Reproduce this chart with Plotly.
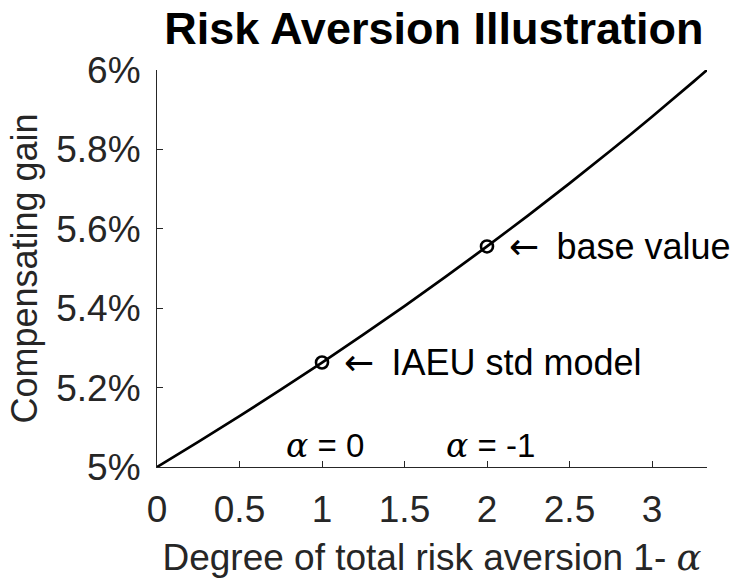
import plotly.graph_objects as go

# Degree of total risk aversion (1 - alpha) and the compensating gain it requires
risk_aversion = [0.0, 0.25, 0.5, 0.75, 1.0, 1.25, 1.5, 1.75, 2.0, 2.25, 2.5, 2.75, 3.0, 3.25, 3.3333]
compensating_gain = [0.05, 0.050633, 0.051282, 0.051948, 0.052632, 0.053333, 0.054054,
                     0.054795, 0.055556, 0.056338, 0.057143, 0.057971, 0.058824, 0.059701, 0.06]

# Highlighted model points
marker_x = [1.0, 2.0]
marker_y = [0.052632, 0.055556]
marker_labels = ["IAEU std model", "base value"]

# Alpha labels along the bottom
alpha_x = [1.0, 2.0]
alpha_labels = ["0", "-1"]

x_ticks = [0, 0.5, 1, 1.5, 2, 2.5, 3]
x_tick_text = ["0", "0.5", "1", "1.5", "2", "2.5", "3"]
y_ticks = [0.05, 0.052, 0.054, 0.056, 0.058, 0.06]
y_tick_text = ["5%", "5.2%", "5.4%", "5.6%", "5.8%", "6%"]

FONT = "Liberation Sans, Arial, sans-serif"
AXIS_COLOR = "#262626"
ALPHA = "<span style='font-family:DejaVu Serif, serif; font-style:italic'>\u03b1</span>"
ARROW = "<span style='font-family:DejaVu Sans'>\u2190</span>"

fig = go.Figure()
fig.add_trace(go.Scatter(
    x=risk_aversion, y=compensating_gain, mode="lines",
    line=dict(color="black", width=2.7, shape="spline"),
    hoverinfo="skip", showlegend=False,
))
fig.add_trace(go.Scatter(
    x=marker_x, y=marker_y, mode="markers",
    marker=dict(symbol="circle-open", size=12, color="black", line=dict(width=2.6)),
    showlegend=False,
))

for x, y, t in zip(marker_x, marker_y, marker_labels):
    fig.add_annotation(x=x, y=y, text=f"{ARROW}\u2009 {t}", xref="x", yref="y", showarrow=False,
                       xanchor="left", yanchor="middle", xshift=20,
                       font=dict(family=FONT, size=36, color="black"))

for x, t in zip(alpha_x, alpha_labels):
    fig.add_annotation(x=x, y=0.0505, text=f"{ALPHA} = {t}", xref="x", yref="y",
                       showarrow=False, xanchor="center", yanchor="middle",
                       xshift=3, yshift=2,
                       font=dict(family=FONT, size=33, color="black"))

fig.update_layout(
    width=739, height=579,
    margin=dict(l=157, r=32, t=70, b=112),
    plot_bgcolor="white", paper_bgcolor="white",
    title=dict(text="<b>Risk Aversion Illustration</b>", x=0.587, xanchor="center",
               y=0.952, yanchor="middle",
               font=dict(family=FONT, size=45, color="black")),
    xaxis=dict(
        range=[0, 3.3333], tickvals=x_ticks, ticktext=x_tick_text, automargin=False,
        ticks="inside", ticklen=6, tickcolor=AXIS_COLOR, showgrid=False, zeroline=False,
        showline=True, linecolor=AXIS_COLOR, linewidth=1, ticklabelstandoff=10,
        tickfont=dict(family=FONT, size=37, color=AXIS_COLOR),
        title=dict(text=f"Degree of total risk aversion 1- {ALPHA}",
                   font=dict(family=FONT, size=37, color=AXIS_COLOR), standoff=16),
    ),
    yaxis=dict(
        range=[0.05, 0.06], tickvals=y_ticks, ticktext=y_tick_text, automargin=False,
        ticks="inside", ticklen=6, tickcolor=AXIS_COLOR, showgrid=False, zeroline=False,
        showline=True, linecolor=AXIS_COLOR, linewidth=1, ticklabelstandoff=8,
        tickfont=dict(family=FONT, size=37, color=AXIS_COLOR),
        title=dict(text="Compensating gain",
                   font=dict(family=FONT, size=36, color=AXIS_COLOR), standoff=7),
    ),
)

fig.write_html("out.html")
